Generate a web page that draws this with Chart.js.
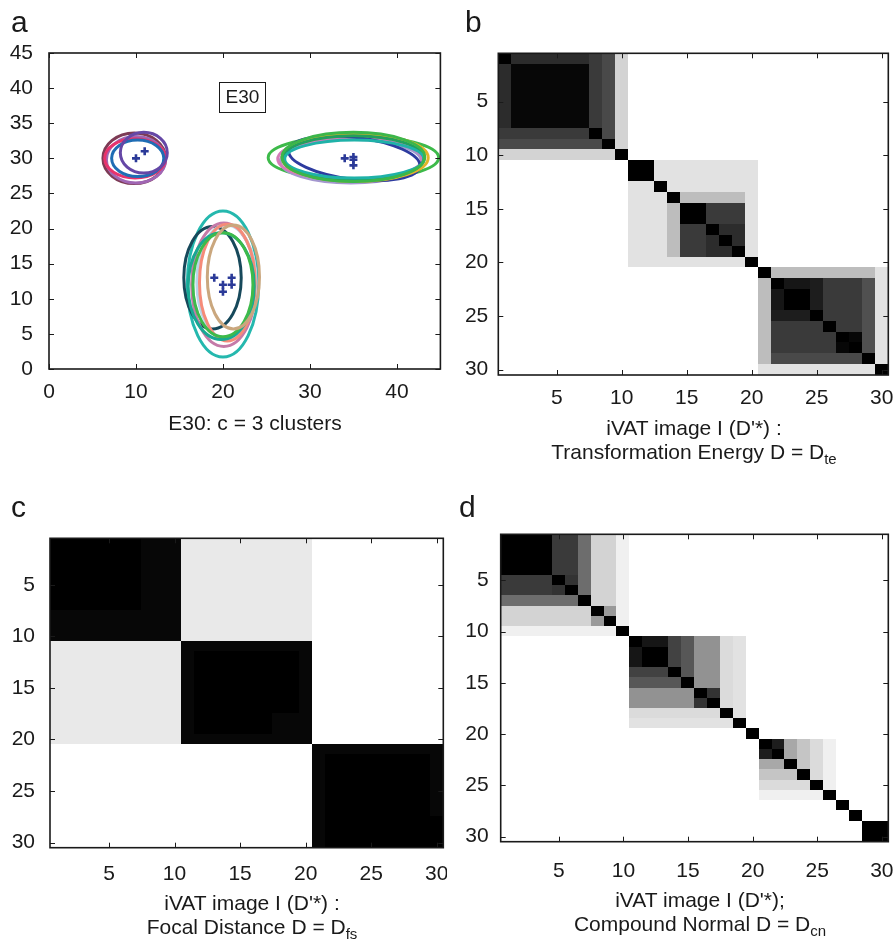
<!DOCTYPE html>
<html>
<head>
<meta charset="utf-8">
<script src="https://cdn.jsdelivr.net/npm/chart.js@4.4.0/dist/chart.umd.min.js"></script>
<style>
  body { margin: 0; background: #fff; }
  #fig { position: relative; width: 894px; height: 943px; font-family: "Liberation Sans", Arial, sans-serif; color: #1a1a1a; overflow: hidden; }
  #fig canvas { position: absolute; }
  .tag { position: absolute; font-size: 30px; line-height: 30px; }
  .cap { position: absolute; width: 400px; margin-left: -200px; text-align: center; font-size: 21px; line-height: 24px; white-space: nowrap; }
  .cap sub { font-size: 15px; vertical-align: -5px; line-height: 0; }
</style>
</head>
<body>
<div id="fig">
  <canvas id="chartA" width="447" height="410" style="left:0;top:0;width:447px;height:410px"></canvas>
  <canvas id="chartB" width="444" height="420" style="left:450px;top:0;width:444px;height:420px"></canvas>
  <canvas id="chartC" width="447" height="420" style="left:0;top:480px;width:447px;height:420px"></canvas>
  <canvas id="chartD" width="444" height="420" style="left:450px;top:480px;width:444px;height:420px"></canvas>

  <div class="tag" style="left:11px;top:7px">a</div>
  <div class="tag" style="left:465px;top:7px">b</div>
  <div class="tag" style="left:11px;top:492px">c</div>
  <div class="tag" style="left:459px;top:492px">d</div>

  <div class="cap" style="left:255px;top:411px">E30: c = 3 clusters</div>
  <div class="cap" style="left:694px;top:416px">iVAT image I (D'*) :</div>
  <div class="cap" style="left:694px;top:440px">Transformation Energy D = D<sub>te</sub></div>
  <div class="cap" style="left:252px;top:891px">iVAT image I (D'*) :</div>
  <div class="cap" style="left:252px;top:915px">Focal Distance D = D<sub>fs</sub></div>
  <div class="cap" style="left:700px;top:888px">iVAT image I (D'*);</div>
  <div class="cap" style="left:700px;top:912px">Compound Normal D = D<sub>cn</sub></div>
</div>

<script>
// E30 data points
const pointX = [10, 11, 34, 35, 35, 35, 19, 20, 20, 21, 21];
const pointY = [30, 31, 30, 30.2, 29.8, 29, 13, 12, 11, 13, 12];

// fitted cluster ellipses: centre, semi-axes, tilt (deg)
const ellCx = [9.8, 10.0, 9.9, 10.2, 10.9,
               35.0, 34.7, 34.6, 35.1, 35.2, 35.0, 35.1, 35.0,
               20.0, 18.8, 20.1, 20.4, 20.5, 19.8, 20.0, 21.2];
const ellCy = [30.0, 29.8, 30.0, 30.0, 30.8,
               30.1, 29.6, 29.9, 30.0, 30.1, 30.0, 29.9, 30.2,
               12.1, 13.0, 12.0, 12.4, 12.3, 11.8, 12.0, 13.1];
const ellRx = [3.6, 3.4, 3.5, 3.0, 2.7,
               9.8, 8.1, 8.3, 7.6, 8.4, 8.1, 8.0, 8.2,
               4.1, 3.3, 3.7, 3.4, 3.2, 3.8, 3.45, 3.0];
const ellRy = [3.6, 3.3, 2.8, 2.6, 2.9,
               3.1, 3.1, 3.0, 3.0, 3.4, 3.2, 2.7, 3.5,
               10.4, 7.3, 8.8, 8.1, 8.3, 7.6, 7.4, 7.4];
const ellTilt = [0, 0, 0, 0, 0,
                 0, 0, 0, 7, 0, 0, 0, 0,
                 0, 0, 0, 0, 0, 0, 0, 0];
const ellColors = ['#7d3b55', '#a066b4', '#e8336c', '#1f6db4', '#6547a6',
                   '#3dba4a', '#a497cf', '#d47bb8', '#2d3b9f', '#e2b32a', '#22a05c', '#1fb2a8', '#3cb64a',
                   '#25b8ae', '#17495b', '#c57aa8', '#b8d6ea', '#f58b79', '#18a894', '#3dba4b', '#caa77e'];

const scatterTicks = [0, 5, 10, 15, 20, 25, 30, 35, 40, 45];
const scatterXTicks = [0, 10, 20, 30, 40];
const matrixTicks = [5, 10, 15, 20, 25, 30];

// iVAT images, one string per row, one base-36 digit per cell (0 = black, z = white)
const ivatTe = [
  '06666668atzzzzzzzzzzzzzzzzzzzz',
  '61111118atzzzzzzzzzzzzzzzzzzzz',
  '61111118atzzzzzzzzzzzzzzzzzzzz',
  '61111118atzzzzzzzzzzzzzzzzzzzz',
  '61111118atzzzzzzzzzzzzzzzzzzzz',
  '61111118atzzzzzzzzzzzzzzzzzzzz',
  '61111118atzzzzzzzzzzzzzzzzzzzz',
  '88888880atzzzzzzzzzzzzzzzzzzzz',
  'aaaaaaaa0tzzzzzzzzzzzzzzzzzzzz',
  'ttttttttt0zzzzzzzzzzzzzzzzzzzz',
  'zzzzzzzzzz00vvvvvvvvzzzzzzzzzz',
  'zzzzzzzzzz00vvvvvvvvzzzzzzzzzz',
  'zzzzzzzzzzvv0vvvvvvvzzzzzzzzzz',
  'zzzzzzzzzzvvv0qqqqqvzzzzzzzzzz',
  'zzzzzzzzzzvvvq00888vzzzzzzzzzz',
  'zzzzzzzzzzvvvq00888vzzzzzzzzzz',
  'zzzzzzzzzzvvvq88066vzzzzzzzzzz',
  'zzzzzzzzzzvvvq88606vzzzzzzzzzz',
  'zzzzzzzzzzvvvq88660vzzzzzzzzzz',
  'zzzzzzzzzzvvvvvvvvv0zzzzzzzzzz',
  'zzzzzzzzzzzzzzzzzzzz0qqqqqqqqv',
  'zzzzzzzzzzzzzzzzzzzzq0334888bv',
  'zzzzzzzzzzzzzzzzzzzzq3004888bv',
  'zzzzzzzzzzzzzzzzzzzzq3004888bv',
  'zzzzzzzzzzzzzzzzzzzzq4440888bv',
  'zzzzzzzzzzzzzzzzzzzzq8888088bv',
  'zzzzzzzzzzzzzzzzzzzzq8888801bv',
  'zzzzzzzzzzzzzzzzzzzzq8888810bv',
  'zzzzzzzzzzzzzzzzzzzzqaaaaaaa0v',
  'zzzzzzzzzzzzzzzzzzzzvvvvvvvvv0'
];

const ivatFs = [
  '0000000111wwwwwwwwwwzzzzzzzzzz',
  '0000000111wwwwwwwwwwzzzzzzzzzz',
  '0000000111wwwwwwwwwwzzzzzzzzzz',
  '0000000111wwwwwwwwwwzzzzzzzzzz',
  '0000000111wwwwwwwwwwzzzzzzzzzz',
  '0000000111wwwwwwwwwwzzzzzzzzzz',
  '0000000111wwwwwwwwwwzzzzzzzzzz',
  '1111111111wwwwwwwwwwzzzzzzzzzz',
  '1111111111wwwwwwwwwwzzzzzzzzzz',
  '1111111111wwwwwwwwwwzzzzzzzzzz',
  'wwwwwwwwww1111111111zzzzzzzzzz',
  'wwwwwwwwww1000000001zzzzzzzzzz',
  'wwwwwwwwww1000000001zzzzzzzzzz',
  'wwwwwwwwww1000000001zzzzzzzzzz',
  'wwwwwwwwww1000000001zzzzzzzzzz',
  'wwwwwwwwww1000000001zzzzzzzzzz',
  'wwwwwwwwww1000000001zzzzzzzzzz',
  'wwwwwwwwww1000000111zzzzzzzzzz',
  'wwwwwwwwww1000000111zzzzzzzzzz',
  'wwwwwwwwww1111111111zzzzzzzzzz',
  'zzzzzzzzzzzzzzzzzzzz1111111111',
  'zzzzzzzzzzzzzzzzzzzz1000000001',
  'zzzzzzzzzzzzzzzzzzzz1000000001',
  'zzzzzzzzzzzzzzzzzzzz1000000001',
  'zzzzzzzzzzzzzzzzzzzz1000000001',
  'zzzzzzzzzzzzzzzzzzzz1000000001',
  'zzzzzzzzzzzzzzzzzzzz1000000001',
  'zzzzzzzzzzzzzzzzzzzz1000000000',
  'zzzzzzzzzzzzzzzzzzzz1000000000',
  'zzzzzzzzzzzzzzzzzzzz1000000000'
];

const ivatCn = [
  '000088fttxzzzzzzzzzzzzzzzzzzzz',
  '000088fttxzzzzzzzzzzzzzzzzzzzz',
  '000088fttxzzzzzzzzzzzzzzzzzzzz',
  '000088fttxzzzzzzzzzzzzzzzzzzzz',
  '888807fttxzzzzzzzzzzzzzzzzzzzz',
  '888870fttxzzzzzzzzzzzzzzzzzzzz',
  'ffffff0ttxzzzzzzzzzzzzzzzzzzzz',
  'ttttttt0lxzzzzzzzzzzzzzzzzzzzz',
  'tttttttl0xzzzzzzzzzzzzzzzzzzzz',
  'xxxxxxxxx0zzzzzzzzzzzzzzzzzzzz',
  'zzzzzzzzzz0339ckkuvzzzzzzzzzzz',
  'zzzzzzzzzz3009ckkuvzzzzzzzzzzz',
  'zzzzzzzzzz3009ckkuvzzzzzzzzzzz',
  'zzzzzzzzzz9990ckkuvzzzzzzzzzzz',
  'zzzzzzzzzzcccc0kkuvzzzzzzzzzzz',
  'zzzzzzzzzzkkkkk07uvzzzzzzzzzzz',
  'zzzzzzzzzzkkkkk70uvzzzzzzzzzzz',
  'zzzzzzzzzzuuuuuuu0vzzzzzzzzzzz',
  'zzzzzzzzzzvvvvvvvv0zzzzzzzzzzz',
  'zzzzzzzzzzzzzzzzzzz0zzzzzzzzzz',
  'zzzzzzzzzzzzzzzzzzzz04nruxzzzz',
  'zzzzzzzzzzzzzzzzzzzz40nruxzzzz',
  'zzzzzzzzzzzzzzzzzzzznn0ruxzzzz',
  'zzzzzzzzzzzzzzzzzzzzrrr0uxzzzz',
  'zzzzzzzzzzzzzzzzzzzzuuuu0xzzzz',
  'zzzzzzzzzzzzzzzzzzzzxxxxx0zzzz',
  'zzzzzzzzzzzzzzzzzzzzzzzzzz0zzz',
  'zzzzzzzzzzzzzzzzzzzzzzzzzzz0zz',
  'zzzzzzzzzzzzzzzzzzzzzzzzzzzz00',
  'zzzzzzzzzzzzzzzzzzzzzzzzzzzz00'
];

const tickFont = { family: '"Liberation Sans", Arial, sans-serif', size: 21 };
const ink = '#1a1a1a';

// pin a scale's thickness so every chart area lands where it should
function fixSize(prop, size) {
  return s => {
    s[prop] = size;
    s.paddingLeft = s.paddingRight = s.paddingTop = s.paddingBottom = 0;
  };
}
function useTicks(values) {
  return s => { s.ticks = values.map(v => ({ value: v })); };
}

// closed box with inward tick marks on all four sides
const boxAxes = {
  id: 'boxAxes',
  afterDatasetsDraw(chart) {
    const { ctx, chartArea: a, scales: { x, y } } = chart;
    ctx.save();
    ctx.strokeStyle = ink;
    ctx.lineWidth = 1;
    ctx.beginPath();
    x.ticks.forEach(t => {
      const p = Math.round(x.getPixelForValue(t.value)) + 0.5;
      ctx.moveTo(p, a.bottom); ctx.lineTo(p, a.bottom - 5);
      ctx.moveTo(p, a.top); ctx.lineTo(p, a.top + 5);
    });
    y.ticks.forEach(t => {
      const p = Math.round(y.getPixelForValue(t.value)) + 0.5;
      ctx.moveTo(a.left, p); ctx.lineTo(a.left + 5, p);
      ctx.moveTo(a.right, p); ctx.lineTo(a.right - 5, p);
    });
    ctx.stroke();
    ctx.lineWidth = 1.6;
    ctx.strokeRect(a.left, a.top, a.right - a.left, a.bottom - a.top);
    ctx.restore();
  }
};

// grey-level cells of an iVAT image
const ivatCells = {
  id: 'ivatCells',
  beforeDatasetsDraw(chart, args, opts) {
    const rows = opts.rows;
    if (!rows) return;
    const { ctx, scales: { x, y } } = chart;
    ctx.save();
    rows.forEach((row, r) => {
      const ya = y.getPixelForValue(r + 0.5), yb = y.getPixelForValue(r + 1.5);
      const top = Math.floor(Math.min(ya, yb)), h = Math.ceil(Math.max(ya, yb)) - top;
      for (let c = 0; c < row.length; c++) {
        const xa = x.getPixelForValue(c + 0.5), xb = x.getPixelForValue(c + 1.5);
        const g = Math.round(parseInt(row[c], 36) / 35 * 255);
        ctx.fillStyle = 'rgb(' + g + ',' + g + ',' + g + ')';
        ctx.fillRect(Math.floor(xa), top, Math.ceil(xb) - Math.floor(xa), h);
      }
    });
    ctx.restore();
  }
};

// cluster ellipses plus the "E30" label box
const clusterEllipses = {
  id: 'clusterEllipses',
  beforeDatasetsDraw(chart) {
    const { ctx, chartArea: a, scales: { x, y } } = chart;
    ctx.save();
    ctx.lineWidth = 3;
    ellCx.forEach((cx, i) => {
      const px = x.getPixelForValue(cx), py = y.getPixelForValue(ellCy[i]);
      const rx = Math.abs(x.getPixelForValue(cx + ellRx[i]) - px);
      const ry = Math.abs(y.getPixelForValue(ellCy[i] + ellRy[i]) - py);
      ctx.beginPath();
      ctx.ellipse(px, py, rx, ry, ellTilt[i] * Math.PI / 180, 0, 2 * Math.PI);
      ctx.strokeStyle = ellColors[i];
      ctx.stroke();
    });
    ctx.lineWidth = 1;
    ctx.strokeStyle = ink;
    ctx.strokeRect(a.left + 170.5, a.top + 29.5, 46, 30);
    ctx.fillStyle = ink;
    ctx.font = '19px "Liberation Sans", Arial, sans-serif';
    ctx.textAlign = 'center';
    ctx.textBaseline = 'middle';
    ctx.fillText('E30', a.left + 193.5, a.top + 45);
    ctx.restore();
  }
};

function axis(opts) {
  return {
    type: 'linear',
    min: opts.min,
    max: opts.max,
    reverse: !!opts.reverse,
    grid: { display: false, drawTicks: false },
    border: { display: false },
    afterBuildTicks: useTicks(opts.ticks),
    afterFit: fixSize(opts.prop, opts.size),
    ticks: { font: tickFont, color: ink, padding: opts.padding, maxRotation: 0, autoSkip: false }
  };
}

const quiet = {
  responsive: false,
  animation: false,
  events: [],
  plugins: { legend: { display: false }, tooltip: { enabled: false } }
};

new Chart('chartA', {
  type: 'scatter',
  data: {
    datasets: [{
      data: pointX.map((v, i) => ({ x: v, y: pointY[i] })),
      pointStyle: 'cross',
      pointRadius: 4,
      borderWidth: 2.6,
      borderColor: '#2b3a98'
    }]
  },
  options: Object.assign({}, quiet, {
    layout: { padding: { top: 53, right: 3.5, left: 0, bottom: 0 } },
    scales: {
      x: axis({ min: 0, max: 45, ticks: scatterXTicks, prop: 'height', size: 41, padding: 11 }),
      y: axis({ min: 0, max: 45, ticks: scatterTicks, prop: 'width', size: 49, padding: 16 })
    }
  }),
  plugins: [clusterEllipses, boxAxes]
});

function ivatChart(id, rows, box) {
  return new Chart(id, {
    type: 'scatter',
    data: { datasets: [] },
    options: Object.assign({}, quiet, {
      layout: { padding: { top: box.top, right: box.right, left: 0, bottom: 0 } },
      plugins: Object.assign({}, quiet.plugins, { ivatCells: { rows: rows } }),
      scales: {
        x: axis({ min: 0.5, max: 30.5, ticks: matrixTicks, prop: 'height', size: box.xh, padding: box.xpad }),
        y: axis({ min: 0.5, max: 30.5, reverse: true, ticks: matrixTicks, prop: 'width', size: box.left, padding: box.ypad })
      }
    }),
    plugins: [ivatCells, boxAxes]
  });
}

ivatChart('chartB', ivatTe, { top: 53.3, right: 5.7, left: 48.3, xh: 45, xpad: 11, ypad: 10 });
ivatChart('chartC', ivatFs, { top: 58.3, right: 3.7, left: 50, xh: 52.3, xpad: 13.5, ypad: 15 });
ivatChart('chartD', ivatCn, { top: 54.3, right: 5.7, left: 50.7, xh: 58.3, xpad: 16.5, ypad: 12 });
</script>
</body>
</html>
